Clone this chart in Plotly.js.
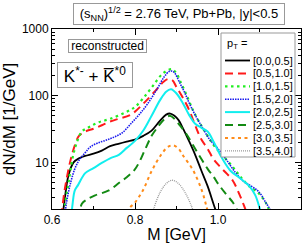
<!DOCTYPE html>
<html><head><meta charset="utf-8">
<script src="https://cdn.plot.ly/plotly-3.0.1.min.js"></script>
<style>html,body{margin:0;padding:0;background:#fff}#chart{width:308px;height:246px}</style>
</head><body><div id="chart"></div>
<script>
// ---- data ----
const binLabels = ["[0.0,0.5]","[0.5,1.0]","[1.0,1.5]","[1.5,2.0]","[2.0,2.5]","[2.5,3.0]","[3.0,3.5]","[3.5,4.0]"];

const m_00_05 = [0.622,0.630,0.640,0.652,0.665,0.680,0.700,0.720,0.740,0.760,0.780,0.800,0.820,0.840,0.860,0.875,0.885,0.895,0.905,0.915,0.930,0.945,0.960,0.975,0.990,1.002];
const v_00_05 = [1.0,2.6,6.5,10,11.5,12.5,13.5,15,17.5,19,20.5,22,25,30,42,52,54,50,43,33,21,13,7.5,4.4,2.3,1.4];

const m_05_10 = [0.620,0.628,0.636,0.645,0.655,0.665,0.680,0.700,0.720,0.740,0.760,0.790,0.820,0.850,0.868,0.880,0.890,0.900,0.915,0.930,0.945,0.960,0.975,0.990,1.010,1.035,1.050,1.062,1.075];
const v_05_10 = [1.0,3,6,11,18,25,29,32,36,41,45,52,76,120,160,178,170,135,94,62,36,22,16,11,8,5.4,3.5,2.3,1.4];

const m_10_15 = [0.625,0.632,0.640,0.650,0.660,0.672,0.690,0.713,0.740,0.776,0.800,0.820,0.843,0.867,0.889,0.900,0.910,0.925,0.940,0.955,0.970,0.990,1.010,1.036,1.060,1.077,1.095,1.106,1.118,1.128];
const v_10_15 = [1.2,2.5,5,12,20,29,34,40,45,56,68,92,140,215,250,215,160,100,60,40,28,18,13,8.5,5.5,4.3,3.6,3.0,2.3,1.5];

const m_15_20 = [0.628,0.635,0.645,0.655,0.665,0.680,0.692,0.710,0.730,0.750,0.770,0.790,0.810,0.830,0.853,0.870,0.883,0.893,0.908,0.920,0.933,0.950,0.964,0.980,1.000,1.020,1.040,1.060,1.080,1.095,1.105,1.115,1.125,1.135];
const v_15_20 = [1.2,2.5,5,8,10.7,14,17,19.5,21.5,24,28,38,52,75,125,190,232,228,155,110,72,45,32,22,16,11,7.3,5.3,4.4,3.8,3.2,2.5,2.0,1.4];

const m_20_25 = [0.645,0.650,0.655,0.663,0.680,0.700,0.720,0.740,0.761,0.780,0.800,0.820,0.840,0.860,0.875,0.887,0.900,0.915,0.930,0.945,0.960,0.975,0.990,1.010,1.030,1.053,1.077,1.090,1.100,1.108];
const v_20_25 = [1.2,2.5,3.8,4.6,6.9,8.2,9.8,11.5,13,16.5,21,30,50,85,115,125,108,78,52,38,33,29,20,11.5,7.5,5.8,4.3,3.2,2.1,1.4];

const m_25_30 = [0.665,0.672,0.685,0.704,0.737,0.761,0.780,0.798,0.810,0.825,0.840,0.855,0.870,0.884,0.895,0.908,0.925,0.940,0.957,0.975,0.990,1.000,1.020,1.036,1.055];
const v_25_30 = [1.4,2.4,2.8,3.2,3.8,4.9,6,7.6,10,16,25,34,44,50,45,36,26,18,12,8,6,4.8,3.3,2.5,1.5];

const m_30_35 = [0.780,0.785,0.800,0.819,0.841,0.865,0.879,0.892,0.905,0.916,0.940,0.961,0.972,0.980];
const v_30_35 = [1.4,2.0,2.5,3.8,7.6,13.6,17,18,16,12.6,7.6,3.8,2.2,1.4];

const m_35_40 = [0.840,0.845,0.860,0.875,0.890,0.905,0.920,0.935,0.945];
const v_35_40 = [1.5,2.0,3.5,4.8,5.4,4.8,3.6,2.3,1.5];

const yTickVals = [10,100,1000];
const yTickText = ["10","100","1000"];
const xTickVals = [0.6,0.8,1.0,1.2];
const xTickText = ["0.6","0.8","1.0","1.2"];

// ---- styles ----
const styles = [
  {color:"#000000", width:1.8, dash:"solid"},
  {color:"#ff1a1a", width:2,   dash:"8px,5px"},
  {color:"#22ee22", width:2.2, dash:"2.5px,3.5px"},
  {color:"#1a1aee", width:1.6, dash:"1.5px,1px"},
  {color:"#11eeee", width:2,   dash:"solid"},
  {color:"#138a13", width:2,   dash:"8px,5px"},
  {color:"#ff8c1a", width:2,   dash:"3px,3.5px"},
  {color:"#999999", width:1.3, dash:"1px,1px"}
];
const series = [[m_00_05,v_00_05],[m_05_10,v_05_10],[m_10_15,v_10_15],[m_15_20,v_15_20],
                [m_20_25,v_20_25],[m_25_30,v_25_30],[m_30_35,v_30_35],[m_35_40,v_35_40]];

const traces = series.map((s,i)=>({
  type:"scatter", mode:"lines", x:s[0], y:s[1], name:binLabels[i], showlegend:false,
  line:{color:styles[i].color, width:styles[i].width, dash:styles[i].dash, shape:"spline", smoothing:1}
}));

// ---- geometry helpers ----
const W=308, H=246, L=52, R=7, T=29, B=37;
const pw=W-L-R, ph=H-T-B;
const fx = p => (p-L)/pw;
const fy = p => (H-B-p)/ph;
const FONT = "Liberation Sans, Arial, sans-serif";

const annotations = [
  {xref:"paper", yref:"paper", x:fx(179), y:fy(13.5), xanchor:"center", yanchor:"middle", showarrow:false,
   text:"(s<sub>NN</sub>)<sup>1/2</sup> = 2.76 TeV, Pb+Pb, |y|&lt;0.5",
   font:{family:FONT, size:13, color:"#000"}, bordercolor:"#999", borderwidth:1, borderpad:1,
   bgcolor:"#fff", width:208, height:18},
  {xref:"paper", yref:"paper", x:fx(107.5), y:fy(45.5), xanchor:"center", yanchor:"middle", showarrow:false,
   text:"reconstructed", font:{family:FONT, size:12, color:"#000"}, bordercolor:"#999", borderwidth:1, borderpad:0,
   bgcolor:"#fff", width:77, height:12},
  {xref:"paper", yref:"paper", x:fx(94.5), y:fy(75), xanchor:"center", yanchor:"middle", showarrow:false,
   text:"K<sup>*-</sup> + K\u0305<sup>*0</sup>", font:{family:FONT, size:17, color:"#000"},
   bordercolor:"#999", borderwidth:1, borderpad:1, bgcolor:"#fff", width:72, height:22},
  {xref:"paper", yref:"paper", x:fx(225), y:fy(44), xanchor:"left", yanchor:"middle", showarrow:false,
   text:"p<sub>T</sub> =", font:{family:FONT, size:11, color:"#000"}}
];
const shapes = [
  {type:"rect", xref:"paper", yref:"paper", x0:fx(221), x1:fx(295), y0:fy(157), y1:fy(33),
   line:{color:"#999", width:1}, fillcolor:"#fff", layer:"above"}
];
binLabels.forEach((lab,i)=>{
  const py = 60.5 + 12.9*i;
  shapes.push({type:"line", xref:"paper", yref:"paper", x0:fx(225), x1:fx(250), y0:fy(py), y1:fy(py),
    line:{color:styles[i].color, width:styles[i].width, dash:styles[i].dash}, layer:"above"});
  annotations.push({xref:"paper", yref:"paper", x:fx(251), y:fy(py), xanchor:"left", yanchor:"middle",
    showarrow:false, text:lab, font:{family:FONT, size:11, color:"#000"}});
});

const axisCommon = {showline:true, linecolor:"#000", linewidth:1, mirror:"allticks", ticks:"inside",
  ticklen:6, tickcolor:"#000", showgrid:false, zeroline:false, tickfont:{family:FONT, size:12, color:"#000"}};

const layout = {
  width:W, height:H, margin:{l:L, r:R, t:T, b:B}, paper_bgcolor:"#fff", plot_bgcolor:"#fff",
  font:{family:FONT, color:"#000"}, showlegend:false,
  xaxis:Object.assign({}, axisCommon, {range:[0.6,1.2], tickmode:"array", tickvals:xTickVals, ticktext:xTickText,
    minor:{dtick:0.1, tick0:0.6, ticks:"inside", ticklen:3, tickcolor:"#000"},
    title:{text:"M [GeV]", font:{family:FONT, size:16, color:"#000"}, standoff:2}}),
  yaxis:Object.assign({}, axisCommon, {type:"log", range:[Math.log10(2),3], tickmode:"array",
    tickvals:yTickVals, ticktext:yTickText,
    minor:{dtick:"D1", ticks:"inside", ticklen:3, tickcolor:"#000"},
    title:{text:"dN/dM [1/GeV]", font:{family:FONT, size:17, color:"#000"}, standoff:4}}),
  annotations:annotations, shapes:shapes
};
Plotly.newPlot("chart", traces, layout, {displayModeBar:false, staticPlot:true});
</script></body></html>
